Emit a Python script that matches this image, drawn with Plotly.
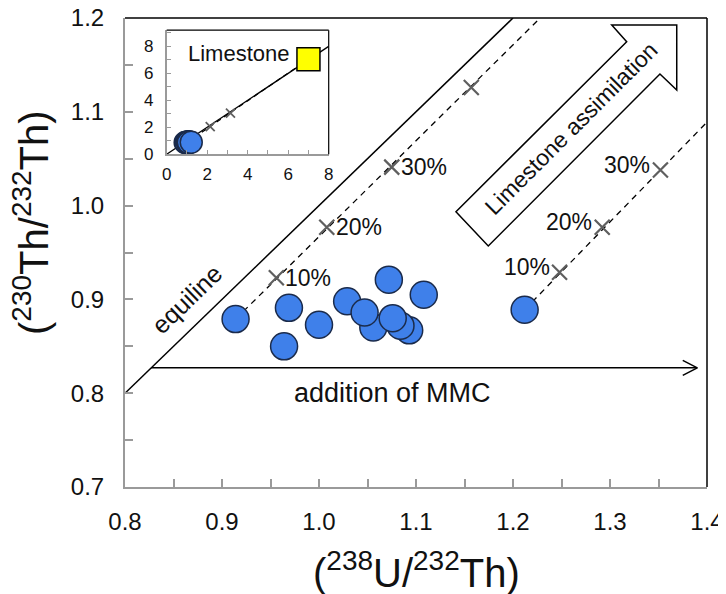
import plotly.graph_objects as go

# ---------------- data ----------------
sample_u = [0.914, 0.969, 1.000, 0.964, 1.029, 1.072, 1.108, 1.056, 1.047, 1.093, 1.084, 1.076, 1.212]
sample_th = [0.879, 0.891, 0.873, 0.850, 0.898, 0.921, 0.905, 0.870, 0.886, 0.867, 0.872, 0.880, 0.889]

equiline_x = [0.8, 1.2]
equiline_y = [0.8, 1.2]

mix1_line_x = [0.914, 1.228]
mix1_line_y = [0.879, 1.200]
mix1_cross_x = [0.956, 1.008, 1.075, 1.157]
mix1_cross_y = [0.923, 0.977, 1.041, 1.126]
mix1_labels = ["10%", "20%", "30%", ""]

mix2_line_x = [1.212, 1.400]
mix2_line_y = [0.889, 1.089]
mix2_cross_x = [1.248, 1.292, 1.352]
mix2_cross_y = [0.929, 0.977, 1.038]
mix2_labels = ["10%", "20%", "30%"]

mmc_arrow_x = [0.827, 1.390]
mmc_arrow_y = 0.827

x_ticks = [0.8, 0.9, 1.0, 1.1, 1.2, 1.3, 1.4]
x_tick_labels = ["0.8", "0.9", "1.0", "1.1", "1.2", "1.3", "1.4"]
y_ticks = [0.7, 0.8, 0.9, 1.0, 1.1, 1.2]
y_tick_labels = ["0.7", "0.8", "0.9", "1.0", "1.1", "1.2"]

# inset
limestone_x = [7.0]
limestone_y = [7.05]
inset_equi_x = [0, 8]
inset_equi_y = [0, 8]
inset_mix_x = [1.0, 7.0]
inset_mix_y = [0.88, 7.05]
inset_cross_x = [2.15, 3.15]
inset_cross_y = [2.05, 3.05]
inset_ticks = [0, 2, 4, 6, 8]
inset_tick_labels = ["0", "2", "4", "6", "8"]

FONT = "Arial, Liberation Sans, sans-serif"
BLUE = "#3F80EA"
EDGE = "#1b2b4b"
GRAY = "#9a9a9a"
CROSS = "#5f5f5f"

fig = go.Figure()

# equiline
fig.add_trace(go.Scatter(x=equiline_x, y=equiline_y, mode="lines",
                         line=dict(color="black", width=1.5), showlegend=False, hoverinfo="skip"))
# mixing lines
for lx, ly in [(mix1_line_x, mix1_line_y), (mix2_line_x, mix2_line_y)]:
    fig.add_trace(go.Scatter(x=lx, y=ly, mode="lines",
                             line=dict(color="black", width=1.3, dash="6px,5px"),
                             showlegend=False, hoverinfo="skip"))
# MMC arrow
fig.add_trace(go.Scatter(x=mmc_arrow_x, y=[mmc_arrow_y] * 2, mode="lines",
                         line=dict(color="black", width=1.5), showlegend=False, hoverinfo="skip"))
hx, hy = mmc_arrow_x[1], mmc_arrow_y
fig.add_trace(go.Scatter(x=[hx - 0.015, hx, hx - 0.015], y=[hy + 0.008, hy, hy - 0.008], mode="lines",
                         line=dict(color="black", width=1.5), showlegend=False, hoverinfo="skip"))
# crosses
fig.add_trace(go.Scatter(x=mix1_cross_x + mix2_cross_x, y=mix1_cross_y + mix2_cross_y, mode="markers",
                         marker=dict(symbol="x-thin", size=15, line=dict(color=CROSS, width=2.2)),
                         showlegend=False, hoverinfo="skip"))
# samples
fig.add_trace(go.Scatter(x=sample_u, y=sample_th, mode="markers",
                         marker=dict(size=27, color=BLUE, line=dict(color=EDGE, width=1.5)),
                         showlegend=False, cliponaxis=False))

# ---------------- inset ----------------
fig.add_trace(go.Scatter(x=inset_equi_x, y=inset_equi_y, mode="lines", xaxis="x2", yaxis="y2",
                         line=dict(color="black", width=1.3), showlegend=False, hoverinfo="skip"))
fig.add_trace(go.Scatter(x=inset_mix_x, y=inset_mix_y, mode="lines", xaxis="x2", yaxis="y2",
                         line=dict(color="black", width=1.2, dash="5px,4px"), showlegend=False, hoverinfo="skip"))
fig.add_trace(go.Scatter(x=inset_cross_x, y=inset_cross_y, mode="markers", xaxis="x2", yaxis="y2",
                         marker=dict(symbol="x-thin", size=9, line=dict(color=CROSS, width=1.8)),
                         showlegend=False, hoverinfo="skip"))
fig.add_trace(go.Scatter(x=sample_u, y=sample_th, mode="markers", xaxis="x2", yaxis="y2",
                         marker=dict(size=22, color=BLUE, line=dict(color=EDGE, width=1.5)),
                         showlegend=False, cliponaxis=False))
fig.add_trace(go.Scatter(x=limestone_x, y=limestone_y, mode="markers", xaxis="x2", yaxis="y2",
                         marker=dict(symbol="square", size=23, color="#FFFF00", line=dict(color="black", width=1.5)),
                         showlegend=False, cliponaxis=False))

annotations = []
for x, y, t in zip(mix1_cross_x, mix1_cross_y, mix1_labels):
    if t:
        annotations.append(dict(x=x, y=y, text=t, showarrow=False, xanchor="left", yanchor="middle",
                                xshift=7, font=dict(family=FONT, size=23, color="#111")))
for x, y, t in zip(mix2_cross_x, mix2_cross_y, mix2_labels):
    annotations.append(dict(x=x, y=y, text=t, showarrow=False, xanchor="right", yanchor="middle",
                            xshift=-8, yshift=5, font=dict(family=FONT, size=23, color="#111")))
annotations.append(dict(x=0.864, y=0.900, text="equiline", showarrow=False, textangle=-44,
                        font=dict(family=FONT, size=25, color="#111")))
annotations.append(dict(x=1.076, y=0.800, text="addition of MMC", showarrow=False,
                        font=dict(family=FONT, size=27, color="#111")))
annotations.append(dict(x=1.2605, y=1.0824, text="Limestone assimilation", showarrow=False, textangle=-45,
                        font=dict(family=FONT, size=23, color="#111")))
annotations.append(dict(x=3.58, y=7.48, xref="x2", yref="y2", text="Limestone", showarrow=False,
                        font=dict(family=FONT, size=22, color="#111")))
# axis titles
annotations.append(dict(x=0.501, y=-0.177, xref="paper", yref="paper", yanchor="middle",
                        text="(<sup>238</sup>U/<sup>232</sup>Th)", showarrow=False,
                        font=dict(family=FONT, size=40, color="#111")))
annotations.append(dict(x=-0.1615, y=0.563, xref="paper", yref="paper", xanchor="center", yanchor="middle",
                        text="(<sup>230</sup>Th/<sup>232</sup>Th)", showarrow=False, textangle=-90,
                        font=dict(family=FONT, size=40, color="#111")))

# block arrow (limestone assimilation)
arrow_pts = [(1.1412, 0.9935), (1.3172, 1.1747), (1.3018, 1.1925), (1.3688, 1.1925),
             (1.3688, 1.1232), (1.3515, 1.1403), (1.1745, 0.9569)]
path = "M " + " L ".join(f"{px},{py}" for px, py in arrow_pts) + " Z"

shapes = [
    dict(type="path", path=path, xref="x", yref="y", fillcolor="white",
         line=dict(color="black", width=1.5), layer="below"),
    # top and right frame (black)
    dict(type="line", xref="paper", yref="paper", x0=0, x1=1, y0=1, y1=1, line=dict(color="black", width=1.5)),
    dict(type="line", xref="paper", yref="paper", x0=1, x1=1, y0=0, y1=1, line=dict(color="black", width=1.5)),
    # inset frame top/right
    dict(type="line", xref="x2 domain", yref="y2 domain", x0=0, x1=1, y0=1, y1=1, line=dict(color="black", width=1.2)),
    dict(type="line", xref="x2 domain", yref="y2 domain", x0=1, x1=1, y0=0, y1=1, line=dict(color="black", width=1.2)),
]

axis_common = dict(showgrid=False, zeroline=False, showline=True, linecolor=GRAY, linewidth=2,
                   ticks="inside", tickcolor=GRAY, tickwidth=1.5, ticklen=8, automargin=False,
                   ticklabeloverflow="allow",
                   tickfont=dict(family=FONT, size=24, color="#111"))
inset_common = dict(showgrid=False, zeroline=False, showline=True, linecolor=GRAY, linewidth=1.5,
                    ticks="inside", ticklen=5, tickcolor=GRAY, automargin=False,
                    tickfont=dict(family=FONT, size=17, color="#111"))

# page body has an 8px default margin: figure is 718x586 so it fits the 726x594 window
fig.update_layout(
    width=718, height=586, autosize=False,
    margin=dict(l=117, r=19, t=10, b=107, autoexpand=False),
    paper_bgcolor="white", plot_bgcolor="white",
    xaxis=dict(range=[0.8, 1.4], tickmode="array", tickvals=x_ticks, ticktext=x_tick_labels,
               minor=dict(dtick=0.05, tick0=0.8, ticks="inside", ticklen=8, tickcolor=GRAY, tickwidth=1.5),
               ticklabelstandoff=12, **axis_common),
    yaxis=dict(range=[0.7, 1.2], tickmode="array", tickvals=y_ticks, ticktext=y_tick_labels,
               minor=dict(dtick=0.05, tick0=0.7, ticks="inside", ticklen=8, tickcolor=GRAY, tickwidth=1.5),
               ticklabelstandoff=14, **axis_common),
    xaxis2=dict(domain=[0.0716, 0.350], anchor="y2", range=[0, 8], tickmode="array",
                tickvals=inset_ticks, ticktext=inset_tick_labels,
                minor=dict(dtick=1, ticks="inside", ticklen=5, tickcolor=GRAY),
                ticklabelstandoff=4, **inset_common),
    yaxis2=dict(domain=[0.7094, 0.974], anchor="x2", range=[0, 9.2], tickmode="array",
                tickvals=inset_ticks, ticktext=inset_tick_labels,
                minor=dict(dtick=1, ticks="inside", ticklen=5, tickcolor=GRAY),
                ticklabelstandoff=8, **inset_common),
    annotations=annotations,
    shapes=shapes,
)

fig.write_html("out.html")
